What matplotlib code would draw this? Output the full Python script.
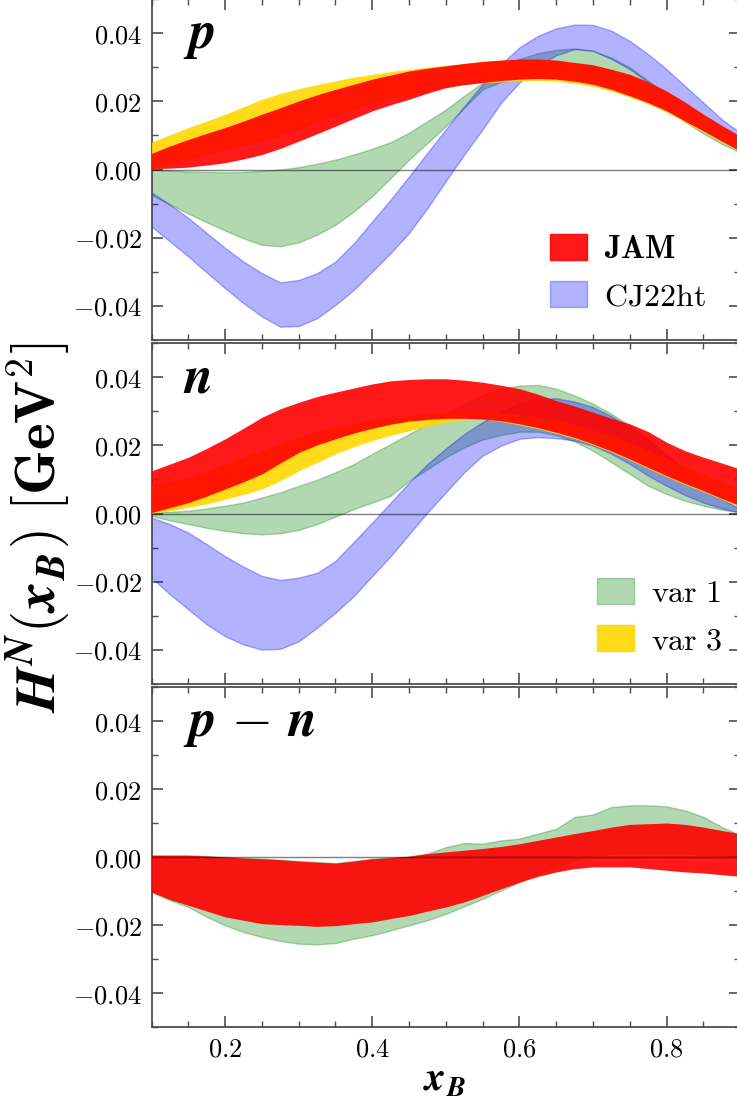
"""Higher-twist function H^N(x_B) for p, n and p-n: JAM bands vs CJ22ht and variations."""

import matplotlib
matplotlib.use("Agg")
import matplotlib.pyplot as plt
import numpy as np
from matplotlib.patches import Patch

plt.rcParams["mathtext.fontset"] = "cm"

# x_B grid, step 0.025
X = np.linspace(0.1, 0.9, 33)

# all band edges below in units of 1e-4 GeV^2
# ---- proton ----
P_JAM_HI = [47, 69, 88, 106, 123, 142, 162, 181, 201, 219, 235, 250, 265, 277, 289, 297, 304,
            311, 317, 321, 324, 324, 321, 314, 307, 294, 279, 257, 230, 198, 162, 129, 98]
P_JAM_LO = [2, 4, 7, 13, 20, 31, 44, 62, 83, 105, 127, 150, 172, 190, 206, 224, 240,
            249, 255, 261, 265, 267, 265, 259, 250, 235, 216, 196, 172, 142, 113, 83, 54]
P_V3_HI = [80, 102, 123, 142, 162, 184, 206, 223, 237, 249, 260, 271, 279, 287, 294, 300, 306,
           311, 316, 320, 322, 323, 320, 313, 306, 293, 278, 256, 229, 197, 161, 128, 97]
P_V3_LO = [10, 20, 29, 44, 56, 69, 83, 100, 118, 137, 157, 176, 193, 208, 222, 233, 243,
           250, 254, 257, 260, 261, 259, 253, 244, 230, 212, 192, 168, 139, 110, 80, 52]
P_V1_HI = [0, -3, -6, -7, -8, -7, -4, 0, 7, 17, 29, 44, 61, 80, 108, 142, 176,
           216, 255, 294, 324, 341, 351, 355, 348, 328, 299, 260, 221, 181, 142, 108, 78]
P_V1_LO = [-74, -103, -129, -155, -179, -202, -221, -225, -214, -191, -162, -123, -78, -25, 29, 78, 127,
           181, 235, 257, 265, 275, 290, 300, 295, 280, 255, 220, 180, 140, 105, 75, 50]
P_CJ_HI = [-67, -103, -142, -186, -230, -270, -304, -331, -324, -304, -270, -216, -152, -88, -20, 49, 118,
           186, 250, 309, 358, 392, 414, 425, 424, 407, 377, 338, 294, 245, 196, 147, 108]
P_CJ_LO = [-167, -211, -255, -302, -348, -392, -431, -461, -459, -436, -397, -353, -299, -245, -186, -113, -34,
           44, 118, 196, 255, 304, 335, 353, 348, 324, 294, 255, 216, 176, 137, 113, 88]

# ---- neutron ----
N_JAM_HI = [125, 145, 165, 191, 219, 250, 282, 307, 326, 343, 356, 368, 380, 389, 393, 395, 395,
            391, 385, 376, 366, 350, 331, 315, 297, 279, 263, 240, 209, 184, 165, 148, 130]
N_JAM_LO = [3, 17, 32, 51, 72, 93, 116, 148, 179, 201, 219, 236, 250, 262, 271, 276, 279,
            279, 277, 272, 263, 252, 238, 223, 204, 183, 160, 135, 111, 88, 67, 44, 23]
N_V3_HI = [85, 95, 105, 125, 145, 165, 185, 205, 225, 240, 255, 265, 275, 282, 288, 292, 295,
           297, 297, 295, 290, 283, 273, 260, 245, 228, 208, 185, 162, 138, 115, 92, 70]
N_V3_LO = [1, 8, 18, 28, 42, 56, 72, 96, 125, 150, 175, 196, 214, 229, 243, 256, 268,
           275, 277, 270, 260, 249, 235, 220, 201, 180, 157, 132, 108, 85, 64, 41, 20]
N_V1_HI = [3, 5, 8, 15, 23, 32, 47, 62, 81, 99, 121, 145, 175, 204, 233, 263, 292,
           322, 346, 366, 375, 377, 366, 346, 322, 292, 258, 219, 175, 130, 91, 52, 23]
N_V1_LO = [-7, -20, -31, -42, -51, -58, -61, -58, -48, -31, -9, 13, 32, 52, 96, 130, 165,
           194, 217, 230, 240, 240, 230, 211, 184, 150, 116, 81, 57, 37, 23, 11, 3]
N_CJ_HI = [-12, -31, -56, -90, -125, -156, -183, -195, -188, -174, -139, -83, -26, 32, 91, 145, 191,
           233, 268, 297, 322, 336, 338, 328, 312, 285, 253, 214, 170, 125, 81, 42, 13]
N_CJ_LO = [-188, -237, -281, -325, -360, -384, -399, -397, -375, -335, -291, -242, -183, -125, -61, 3, 62,
           121, 170, 199, 219, 224, 221, 214, 199, 175, 145, 111, 81, 54, 32, 15, 3]

# ---- p - n ----
D_JAM_HI = [5, 5, 5, 3, 0, -3, -5, -8, -12, -15, -18, -12, -5, -2, 2, 10, 15,
            20, 25, 31, 39, 49, 59, 69, 78, 88, 96, 98, 100, 96, 88, 78, 69]
D_JAM_LO = [-103, -125, -142, -159, -176, -186, -196, -199, -201, -204, -202, -196, -191, -181, -172, -159, -147,
            -132, -113, -93, -74, -57, -44, -34, -29, -29, -29, -34, -39, -44, -47, -52, -57]
D_V1_HI = [5, 5, 5, 3, 0, -3, -5, -8, -12, -15, -18, -12, -5, -2, 2, 10, 29,
           41, 39, 49, 54, 69, 83, 118, 125, 147, 152, 152, 149, 137, 118, 88, 64]
D_V1_LO = [-103, -127, -147, -176, -201, -221, -235, -247, -255, -257, -253, -240, -230, -216, -201, -186, -167,
           -145, -123, -98, -74, -49, -29, -10, 5, 10, 13, 13, 13, 10, 8, 5, 2]

PANELS = [
    dict(label=r"$\mathbfit{p}$", v1=(P_V1_LO, P_V1_HI), cj=(P_CJ_LO, P_CJ_HI),
         v3=(P_V3_LO, P_V3_HI), jam=(P_JAM_LO, P_JAM_HI)),
    dict(label=r"$\mathbfit{n}$", v1=(N_V1_LO, N_V1_HI), cj=(N_CJ_LO, N_CJ_HI),
         v3=(N_V3_LO, N_V3_HI), jam=(N_JAM_LO, N_JAM_HI)),
    dict(label=r"$\mathbfit{p}\ \mathbf{-}\ \mathbfit{n}$", v1=(D_V1_LO, D_V1_HI), cj=None,
         v3=None, jam=(D_JAM_LO, D_JAM_HI)),
]

SCALE = 1e-4

W, H = 737, 1101
# axes boxes in pixels: (top, bottom)
BOXES = [(-1, 340), (343, 684), (687, 1027)]
LEFT, RIGHT = 151.5, 740.25

fig = plt.figure(figsize=(W / 100, H / 100), dpi=100)

spine_c = "0.3"
yt = [-0.04, -0.02, 0.0, 0.02, 0.04]
xt = [0.2, 0.4, 0.6, 0.8]


def band(ax, pair, **kw):
    lo, hi = pair
    ax.fill_between(X, np.array(lo) * SCALE, np.array(hi) * SCALE, **kw)


for i, (pan, (top, bot)) in enumerate(zip(PANELS, BOXES)):
    ax = fig.add_axes([LEFT / W, (H - bot) / H, (RIGHT - LEFT) / W, (bot - top) / H])
    band(ax, pan["v1"], color="green", alpha=0.3, zorder=1)
    if pan["cj"] is not None:
        band(ax, pan["cj"], color="blue", alpha=0.3, zorder=2)
    if pan["v3"] is not None:
        band(ax, pan["v3"], color="gold", alpha=0.9, lw=0, zorder=3)
    band(ax, pan["jam"], color="red", alpha=0.9, lw=0, zorder=4)
    ax.axhline(0, color="k", lw=1, alpha=0.5, zorder=5)

    ax.set_xlim(0.1, 0.9)
    ax.set_ylim(-0.05, 0.05)
    ax.set_yticks(yt)
    ax.set_yticklabels([f"${v:.2f}$" for v in yt], fontsize=19)
    ax.set_yticks(np.arange(-0.05, 0.051, 0.01), minor=True)
    ax.set_xticks(xt)
    ax.set_xticks(np.arange(0.1, 0.91, 0.05), minor=True)
    if i == 2:
        ax.set_xticklabels([f"${v:.1f}$" for v in xt], fontsize=19)
    else:
        ax.set_xticklabels([])
    ax.tick_params(which="both", direction="in", top=True, right=True, color=spine_c)
    ax.tick_params(which="major", length=8, width=1.2, pad=7)
    ax.tick_params(which="minor", length=4, width=1)
    for s in ax.spines.values():
        s.set_color(spine_c)
        s.set_linewidth(1.3)

    ax.text(0.053, 0.855, pan["label"], transform=ax.transAxes, fontsize=38,
            ha="left", va="baseline")

    if i == 0:
        handles = [Patch(facecolor="red", alpha=0.9, edgecolor="red"),
                   Patch(facecolor="blue", alpha=0.3, edgecolor="blue")]
        labels = [r"$\mathbf{JAM}$", r"$\mathrm{CJ22ht}$"]
        ax.legend(handles, labels, loc="upper left", bbox_to_anchor=(0.677, 0.31),
                  frameon=False, fontsize=23, handlelength=1.15, handleheight=0.85,
                  handletextpad=0.55, labelspacing=0.5, borderpad=0, borderaxespad=0)
    if i == 1:
        handles = [Patch(facecolor="green", alpha=0.3, edgecolor="green"),
                   Patch(facecolor="gold", alpha=0.9, edgecolor="gold")]
        labels = [r"$\mathrm{var\ 1}$", r"$\mathrm{var\ 3}$"]
        ax.legend(handles, labels, loc="upper left", bbox_to_anchor=(0.757, 0.31),
                  frameon=False, fontsize=23, handlelength=1.15, handleheight=0.85,
                  handletextpad=0.55, labelspacing=0.5, borderpad=0, borderaxespad=0)

fig.text(38 / W, 1 - 528 / H,
         r"$\mathbfit{H}^{\mathbfit{N}}(\mathbfit{x}_{\mathbfit{B}})\ [\mathbf{GeV}^{\mathbf{2}}]$",
         rotation=90, fontsize=41, ha="center", va="center")
fig.text(445 / W, 1 - 1079 / H, r"$\mathbfit{x}_{\mathbfit{B}}$", fontsize=29,
         ha="center", va="center")

fig.savefig("out.png", dpi=100)
